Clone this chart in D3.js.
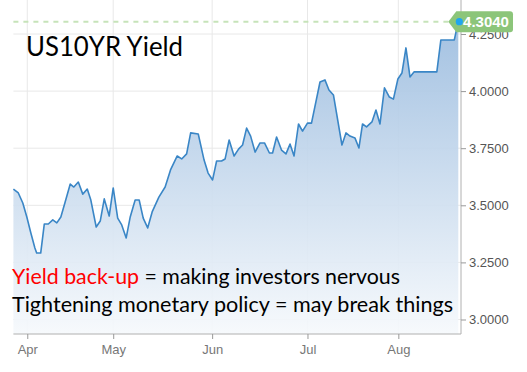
<!DOCTYPE html>
<html><head><meta charset="utf-8">
<script src="https://cdn.jsdelivr.net/npm/d3@7/dist/d3.min.js"></script>
<style>body{margin:0;background:#fff}svg{display:block}</style>
</head><body>
<svg id="c" width="527" height="372"></svg>
<script>
// trading-day index (0..100 spans the plot) and yield values
const dayIdx = [0,1.1,2.1,3.0,3.9,4.8,5.2,6.1,6.9,7.8,8.8,9.7,10.6,11.5,12.7,13.5,14.5,15.5,16.5,17.3,18.5,19.4,20.3,21.4,22.3,23.3,24.2,25.2,26.1,27.2,28.1,29.0,30.0,31.0,32.5,33.9,35.1,36.6,37.6,38.7,39.6,41.3,42.6,43.5,44.5,45.4,46.5,47.3,48.2,49.3,50.3,51.2,52.1,53.0,54.0,55.1,56.1,57.2,57.9,58.8,59.9,60.9,61.8,62.7,63.7,64.6,65.7,66.6,68.5,69.6,70.5,71.5,73.4,74.3,75.2,76.3,77.2,78.0,78.9,80.1,81.0,81.9,82.9,84.0,84.9,85.9,86.8,87.7,88.6,89.5,94.6,95.5,98.5,99.4];
const yieldVals = [3.571,3.554,3.510,3.449,3.379,3.313,3.291,3.291,3.418,3.418,3.436,3.423,3.449,3.510,3.593,3.580,3.602,3.549,3.571,3.523,3.405,3.431,3.528,3.453,3.576,3.444,3.414,3.357,3.449,3.523,3.523,3.444,3.401,3.471,3.536,3.580,3.655,3.716,3.703,3.725,3.817,3.812,3.698,3.641,3.611,3.694,3.694,3.703,3.786,3.716,3.746,3.764,3.838,3.803,3.733,3.773,3.773,3.729,3.729,3.799,3.742,3.725,3.768,3.716,3.856,3.825,3.860,3.860,4.040,4.049,4.005,3.983,3.764,3.817,3.803,3.795,3.751,3.856,3.843,3.865,3.917,3.856,4.014,3.974,3.965,4.053,4.079,4.189,4.062,4.084,4.084,4.224,4.224,4.304];
const monthLabels = ["Apr","May","Jun","Jul","Aug"];
const monthIdx = [3.1,22.3,44.4,65.7,86.0];
const yTicks = [3.0,3.25,3.5,3.75,4.0,4.25];
const lastValue = 4.3040;
const titleText = "US10YR Yield";
const noteRed = "Yield back-up";
const noteRest1 = " = making investors nervous";
const note2 = "Tightening monetary policy = may break things";

const data = dayIdx.map((d,i)=>({d, v:yieldVals[i]}));
const svg = d3.select("#c");
const L = 13.4, R = 461, T = 0, B = 334;
const x = d3.scaleLinear().domain([0,100]).range([L,R]);
const y = d3.scaleLinear().domain([3,4.25]).range([319.5,34]);

const defs = svg.append("defs");
const g = defs.append("linearGradient").attr("id","fillg")
  .attr("gradientUnits","userSpaceOnUse").attr("x1",0).attr("x2",0).attr("y1",20).attr("y2",B);
g.append("stop").attr("offset","0").attr("stop-color","#9bbcdf");
g.append("stop").attr("offset","1").attr("stop-color","#f6f9fc");

// gridlines
svg.append("g").selectAll("line").data(yTicks).join("line")
  .attr("x1",L).attr("x2",R).attr("y1",d=>y(d)).attr("y2",d=>y(d))
  .attr("stroke","#e8e8e8").attr("stroke-width",1);
svg.append("g").selectAll("line").data(monthIdx).join("line")
  .attr("x1",d=>x(d)).attr("x2",d=>x(d)).attr("y1",T).attr("y2",B)
  .attr("stroke","#e8e8e8").attr("stroke-width",1);

// area + line
svg.append("path").datum(data)
  .attr("d", d3.area().x(d=>x(d.d)).y0(B).y1(d=>y(d.v)))
  .attr("fill","url(#fillg)").attr("fill-opacity",0.92);
svg.append("path").datum(data)
  .attr("d", d3.line().x(d=>x(d.d)).y(d=>y(d.v)))
  .attr("fill","none").attr("stroke","#3a86c6").attr("stroke-width",1.6).attr("stroke-linejoin","round");

// axes lines
svg.append("line").attr("x1",R).attr("x2",R).attr("y1",T).attr("y2",B).attr("stroke","#b0b0b0");
svg.append("line").attr("x1",L).attr("x2",R).attr("y1",B).attr("y2",B).attr("stroke","#b0b0b0");

const ya = svg.append("g").attr("transform",`translate(${R},0)`)
  .call(d3.axisRight(y).tickValues(yTicks).tickFormat(d3.format(".4f")).tickSize(5).tickPadding(3));
ya.select(".domain").remove();
ya.selectAll("line").attr("stroke","#999");
ya.selectAll("text").attr("fill","#555").style("font-family","'Liberation Sans',Arial,sans-serif").style("font-size","13px");

const xa = svg.append("g").attr("transform",`translate(0,${B})`)
  .call(d3.axisBottom(x).tickValues(monthIdx).tickFormat((d,i)=>monthLabels[i]).tickSize(5).tickPadding(6));
xa.select(".domain").remove();
xa.selectAll("line").attr("stroke","#999");
xa.selectAll("text").attr("fill","#777").style("font-family","'Liberation Sans',Arial,sans-serif").style("font-size","13px");

// last value marker
const lx = x(dayIdx[dayIdx.length-1]), ly = y(lastValue);
svg.append("line").attr("x1",L).attr("x2",lx-10).attr("y1",ly).attr("y2",ly)
  .attr("stroke","#c6e3b9").attr("stroke-width",2).attr("stroke-dasharray","5,5");
const tip = lx - 10, bx = lx - 2, ex = 513, h = 10.5, r = 3;
const p = d3.path();
p.moveTo(tip, ly); p.lineTo(bx, ly-h); p.lineTo(ex-r, ly-h); p.quadraticCurveTo(ex, ly-h, ex, ly-h+r);
p.lineTo(ex, ly+h-r); p.quadraticCurveTo(ex, ly+h, ex-r, ly+h); p.lineTo(bx, ly+h); p.closePath();
svg.append("path").attr("d",p.toString()).attr("fill","#8cc57a");
svg.append("text").attr("x",486).attr("y",ly+5.5).attr("text-anchor","middle")
  .attr("fill","#fff").style("font-family","'Liberation Sans',Arial,sans-serif").style("font-size","15px").style("font-weight","bold")
  .text(d3.format(".4f")(lastValue));
svg.append("circle").attr("cx",lx+1).attr("cy",ly).attr("r",3.6).attr("fill","#1fa6ef");

// texts
svg.append("text").attr("x",26).attr("y",56).attr("fill","#000")
  .style("font-family","Lato,'Open Sans',sans-serif").style("font-size","26px")
  .attr("textLength",157).attr("lengthAdjust","spacingAndGlyphs").text(titleText);
const t1 = svg.append("text").attr("x",12).attr("y",284).attr("fill","#000")
  .style("font-family","Lato,'Open Sans',sans-serif").style("font-size","21px")
  .attr("textLength",388).attr("lengthAdjust","spacingAndGlyphs");
t1.append("tspan").attr("fill","#ff0000").text(noteRed);
t1.append("tspan").text(noteRest1);
svg.append("text").attr("x",12).attr("y",312).attr("fill","#000")
  .style("font-family","Lato,'Open Sans',sans-serif").style("font-size","21px")
  .attr("textLength",441).attr("lengthAdjust","spacingAndGlyphs").text(note2);
</script>
</body></html>
